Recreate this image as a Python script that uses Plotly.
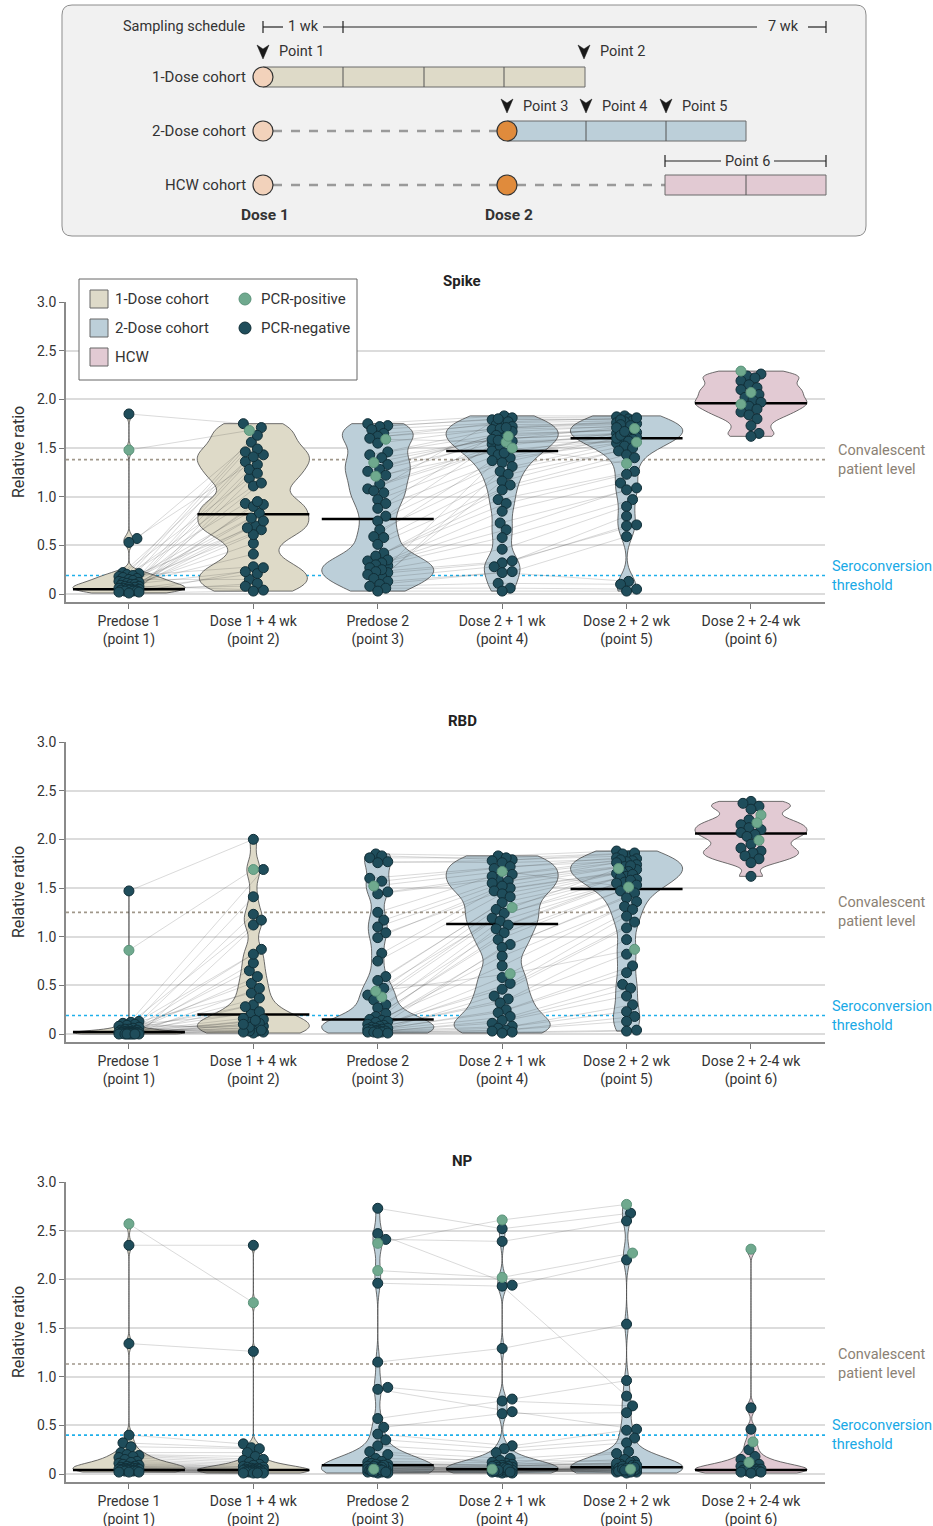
import numpy as np
import plotly.graph_objects as go

W, H = 933, 1526

# ------------------------------------------------------------------ data
categories = ["Predose 1<br>(point 1)", "Dose 1 + 4 wk<br>(point 2)", "Predose 2<br>(point 3)",
              "Dose 2 + 1 wk<br>(point 4)", "Dose 2 + 2 wk<br>(point 5)", "Dose 2 + 2-4 wk<br>(point 6)"]
y_tickvals = [0, 0.5, 1.0, 1.5, 2.0, 2.5, 3.0]
y_ticktext = ["0", "0.5", "1.0", "1.5", "2.0", "2.5", "3.0"]
panel_names = ["Spike", "RBD", "NP"]
convalescent_level = [1.38, 1.25, 1.13]
seroconversion_threshold = [0.19, 0.19, 0.40]

# PCR-positive subject indices per cohort
pos_1dose = [1]
pos_2dose = [7, 12, 16]
pos_hcw = [0, 5, 9]

# ---- Spike
spike_p1 = [1.85, 1.48, 0.57, 0.53, 0.22, 0.21, 0.20, 0.19, 0.18, 0.17, 0.16, 0.15, 0.14, 0.13,
            0.12, 0.12, 0.11, 0.10, 0.10, 0.09, 0.08, 0.08, 0.07, 0.07, 0.06, 0.06, 0.05, 0.05,
            0.05, 0.04, 0.04, 0.04, 0.03, 0.03, 0.03, 0.02, 0.02, 0.01]
spike_p2 = [1.75, 1.68, 1.56, 1.43, 1.36, 0.70, 1.71, 0.28, 1.19, 0.93, 1.49, 0.15, 0.83, 1.11,
            0.41, 1.63, 0.66, 0.23, 1.28, 0.92, 0.04, 1.46, 0.75, 1.14, 0.52, 0.08, 1.33, 0.90,
            0.61, 1.41, 0.21, 0.95, 0.11, 0.78, 1.24, 0.27, 0.68, 0.03]
spike_p3 = [1.75, 1.73, 1.72, 1.69, 1.65, 1.62, 1.60, 1.59, 1.55, 1.46, 1.43, 1.40, 1.35, 1.33,
            1.28, 1.26, 1.21, 1.22, 1.13, 1.08, 1.06, 1.04, 0.97, 0.93, 0.88, 0.80, 0.75, 0.29,
            0.66, 0.22, 0.59, 0.58, 0.18, 0.51, 0.34, 0.42, 0.39, 0.35, 0.32, 0.30, 0.27, 0.25,
            0.23, 0.20, 0.16, 0.13, 0.10, 0.08, 0.06, 0.03]
spike_p4 = [1.83, 1.79, 1.81, 1.76, 1.74, 1.69, 1.77, 1.56, 1.72, 1.65, 1.70, 1.60, 1.62, 1.67,
            1.54, 1.63, 1.50, 1.59, 1.57, 1.47, 1.80, 1.52, 1.43, 1.71, 1.40, 1.58, 1.35, 1.45,
            1.31, 1.26, 1.37, 1.23, 1.16, 1.12, 0.97, 1.07, 0.93, 0.85, 0.73, 0.66, 0.58, 0.46,
            0.34, 0.32, 0.28, 0.23, 0.22, 0.11, 0.06, 0.03]
spike_p5 = [1.83, 1.80, 1.82, 1.78, 1.75, 1.72, 1.81, 1.56, 1.77, 1.68, 1.76, 1.64, 1.70, 1.73,
            1.62, 1.69, 1.34, 1.66, 1.61, 1.59, 1.79, 1.65, 1.58, 1.74, 1.55, 1.71, 1.60, 1.63,
            1.57, 1.52, 1.67, 1.50, 1.47, 1.43, 1.26, 1.40, 1.23, 1.14, 1.09, 1.07, 0.97, 0.90,
            0.80, 0.71, 0.70, 0.59, 0.13, 0.10, 0.05, 0.03]
spike_p6 = [2.29, 2.26, 2.24, 2.22, 2.19, 2.07, 2.15, 2.12, 2.10, 1.95, 2.05, 2.02, 1.99, 1.97,
            1.93, 1.90, 1.87, 1.84, 1.80, 1.73, 1.65, 1.62]
spike_medians = [0.05, 0.82, 0.77, 1.47, 1.60, 1.96]

# ---- RBD
rbd_p1 = [1.47, 0.86, 0.13, 0.12, 0.11, 0.10, 0.09, 0.08, 0.07, 0.06, 0.05, 0.05, 0.04, 0.04,
          0.03, 0.03, 0.03, 0.02, 0.02, 0.02, 0.02, 0.02, 0.02, 0.01, 0.01, 0.01, 0.01, 0.01,
          0.01, 0.01, 0.00, 0.00, 0.00, 0.00, 0.00, 0.00, 0.00, 0.00]
rbd_p2 = [2.00, 1.69, 0.42, 1.12, 0.05, 0.21, 1.69, 0.08, 0.65, 0.02, 0.30, 0.87, 0.12, 0.04,
          1.41, 0.16, 0.52, 0.03, 0.73, 0.09, 0.23, 1.23, 0.06, 0.37, 0.01, 0.15, 0.59, 0.11,
          0.82, 0.03, 0.28, 1.17, 0.07, 0.47, 0.02, 0.14, 0.10, 0.04]
rbd_p3 = [1.85, 1.83, 1.81, 1.77, 1.76, 1.60, 1.57, 1.52, 1.46, 1.44, 1.25, 1.17, 0.38, 1.10,
          1.04, 0.99, 0.44, 0.83, 0.75, 0.59, 0.55, 0.47, 0.40, 0.35, 0.30, 0.27, 0.21, 0.18,
          0.15, 0.14, 0.13, 0.12, 0.10, 0.09, 0.08, 0.07, 0.06, 0.06, 0.05, 0.05, 0.04, 0.04,
          0.03, 0.03, 0.03, 0.02, 0.02, 0.02, 0.01, 0.01]
rbd_p4 = [1.83, 1.79, 1.81, 1.76, 1.78, 1.72, 1.70, 1.67, 1.64, 1.59, 1.62, 1.55, 1.30, 1.57,
          1.50, 1.52, 0.62, 1.47, 1.44, 1.41, 1.35, 1.28, 1.24, 1.19, 1.16, 1.12, 1.08, 1.04,
          0.97, 0.92, 0.89, 0.80, 0.70, 0.58, 0.52, 0.46, 0.39, 0.36, 0.32, 0.25, 0.22, 0.18,
          0.14, 0.11, 0.08, 0.06, 0.04, 0.03, 0.02, 0.01]
rbd_p5 = [1.88, 1.83, 1.86, 1.80, 1.85, 1.78, 1.81, 1.51, 1.77, 1.74, 1.79, 1.72, 1.70, 1.76,
          1.69, 1.73, 0.87, 1.67, 1.65, 1.66, 1.62, 1.64, 1.59, 1.61, 1.56, 1.58, 1.55, 1.53,
          1.47, 1.45, 1.40, 1.36, 1.31, 1.28, 1.21, 1.15, 1.09, 0.97, 0.82, 0.70, 0.63, 0.51,
          0.47, 0.39, 0.30, 0.23, 0.18, 0.13, 0.04, 0.03]
rbd_p6 = [2.25, 2.39, 2.37, 2.34, 2.31, 2.17, 2.20, 2.15, 2.12, 1.99, 2.10, 2.07, 2.05, 2.03,
          1.95, 1.91, 1.88, 1.86, 1.83, 1.80, 1.76, 1.62]
rbd_medians = [0.02, 0.20, 0.15, 1.13, 1.49, 2.06]

# ---- NP
np_p1 = [2.35, 2.57, 1.34, 0.40, 0.32, 0.28, 0.22, 0.20, 0.19, 0.18, 0.17, 0.15, 0.13, 0.12,
         0.11, 0.10, 0.09, 0.08, 0.08, 0.07, 0.07, 0.06, 0.06, 0.06, 0.05, 0.05, 0.05, 0.05,
         0.04, 0.04, 0.04, 0.04, 0.03, 0.03, 0.03, 0.02, 0.02, 0.02]
np_p2 = [2.35, 1.76, 1.26, 0.31, 0.27, 0.26, 0.22, 0.18, 0.15, 0.14, 0.12, 0.10, 0.09, 0.08,
         0.07, 0.07, 0.06, 0.06, 0.05, 0.05, 0.05, 0.04, 0.04, 0.04, 0.04, 0.03, 0.03, 0.03,
         0.03, 0.03, 0.02, 0.02, 0.02, 0.02, 0.01, 0.01, 0.01, 0.01]
np_p3 = [2.73, 2.47, 2.41, 1.96, 1.15, 0.89, 0.87, 2.37, 0.57, 0.48, 0.41, 0.35, 0.05, 0.29,
         0.23, 0.20, 2.09, 0.16, 0.13, 0.10,
         0.12, 0.04, 0.09, 0.02, 0.07, 0.11, 0.03, 0.06, 0.10, 0.05, 0.08, 0.01, 0.04, 0.07,
         0.03, 0.06, 0.09, 0.02, 0.05, 0.08, 0.04, 0.07, 0.01, 0.03, 0.06, 0.02, 0.05, 0.04,
         0.03, 0.02]
np_p4 = [2.52, 1.94, 2.39, 1.93, 1.29, 0.77, 0.64, 2.61, 0.75, 0.62, 0.29, 0.26, 0.05, 0.22,
         0.16, 0.11, 2.02, 0.14, 0.12, 0.10,
         0.09, 0.05, 0.07, 0.03, 0.06, 0.08, 0.02, 0.04, 0.09, 0.06, 0.05, 0.03, 0.01, 0.07,
         0.04, 0.02, 0.08, 0.03, 0.06, 0.05, 0.04, 0.07, 0.02, 0.03, 0.06, 0.01, 0.05, 0.04,
         0.03, 0.02]
np_p5 = [2.68, 2.20, 2.60, 0.80, 1.54, 0.96, 0.46, 2.77, 0.70, 0.63, 0.45, 0.37, 0.05, 0.32,
         0.23, 0.21, 2.27, 0.13, 0.10, 0.15,
         0.10, 0.05, 0.08, 0.03, 0.07, 0.12, 0.02, 0.04, 0.09, 0.06, 0.05, 0.03, 0.08, 0.01,
         0.04, 0.07, 0.11, 0.03, 0.06, 0.05, 0.02, 0.09, 0.04, 0.08, 0.03, 0.07, 0.05, 0.02,
         0.06, 0.04]
np_p6 = [2.31, 0.68, 0.46, 0.25, 0.18, 0.33, 0.15, 0.10, 0.08, 0.12, 0.07, 0.06, 0.05, 0.05,
         0.04, 0.04, 0.03, 0.03, 0.03, 0.02, 0.02, 0.01]
np_medians = [0.04, 0.04, 0.09, 0.05, 0.07, 0.04]

panels = [
    ("Spike", [spike_p1, spike_p2, spike_p3, spike_p4, spike_p5, spike_p6], spike_medians),
    ("RBD", [rbd_p1, rbd_p2, rbd_p3, rbd_p4, rbd_p5, rbd_p6], rbd_medians),
    ("NP", [np_p1, np_p2, np_p3, np_p4, np_p5, np_p6], np_medians),
]

# ------------------------------------------------------------------ style / geometry
FONT = "Roboto"
TXT = "#333333"
C_NEG, C_NEG_LINE = "#1f4d5b", "#112f38"
C_POS, C_POS_LINE = "#6fa98e", "#5b937a"
FILL = ["#dedac8", "#bccfd9", "#e2cad3"]       # 1-dose, 2-dose, HCW
cohort_of_point = [0, 0, 1, 1, 1, 2]
pos_sets = [set(pos_1dose), set(pos_2dose), set(pos_hcw)]
BW_WIDE = 0.105     # KDE bandwidth for widely spread groups
BW_HCW = 0.05       # KDE bandwidth for HCW groups with spread

PLOT_L, PLOT_R = 66, 825
panel_top = [302, 742, 1182]
panel_bot = [602, 1042, 1482]
X_MIN, X_MAX = -0.506, 5.595
Y_MIN, Y_MAX = -0.082, 3.0
XPX = (PLOT_R - PLOT_L) / (X_MAX - X_MIN)
YPX = 300.0 / (Y_MAX - Y_MIN)


def X(px):
    return px / W


def Y(py):
    return 1 - py / H


def swarm_offsets(vals, diam=8.5, step=2.0, max_off=11.0):
    vals = np.asarray(vals, float)
    order = np.argsort(vals, kind="stable")
    cands = [0.0]
    k = 1
    while k * step <= max_off + 1e-9:
        cands += [k * step, -k * step]
        k += 1
    px_list, py_list = [], []
    out = np.zeros(len(vals))
    for i in order:
        yp = vals[i] * YPX
        best, best_d = 0.0, -1.0
        for c in cands:
            if px_list:
                d = float(np.min(np.hypot(np.array(px_list) - c, np.array(py_list) - yp)))
            else:
                d = 1e9
            if d >= diam:
                best = c
                break
            if d > best_d:
                best, best_d = c, d
        out[i] = best / XPX
        px_list.append(best)
        py_list.append(yp)
    return out


fig = go.Figure()
shapes = []
annotations = []

for k, (name, groups, medians) in enumerate(panels):
    sfx = "" if k == 0 else str(k + 1)
    xa, ya = "x" + sfx, "y" + sfx
    offs = [swarm_offsets(g) for g in groups]

    for i, g in enumerate(groups):
        vkw = {}
        spread = np.percentile(g, 75) - np.percentile(g, 25)
        if i == 5 and spread > 0.1:
            vkw["bandwidth"] = BW_HCW
        elif spread > 0.3:
            vkw["bandwidth"] = BW_WIDE
        fig.add_trace(go.Violin(
            x=[i] * len(g), y=g, xaxis=xa, yaxis=ya, width=0.9, scalemode="width",
            spanmode="hard", points=False, side="both",
            fillcolor=FILL[cohort_of_point[i]], line=dict(color="#4a4a4a", width=0.8),
            opacity=1, showlegend=False, hoverinfo="skip", **vkw))

    lx, ly = [], []
    for chain in ([0, 1], [2, 3, 4]):
        for s in range(len(groups[chain[0]])):
            for i in chain:
                lx.append(i + offs[i][s])
                ly.append(groups[i][s])
            lx.append(None)
            ly.append(None)
    fig.add_trace(go.Scatter(x=lx, y=ly, xaxis=xa, yaxis=ya, mode="lines",
                             line=dict(color="rgba(60,60,60,0.32)", width=0.6),
                             showlegend=False, hoverinfo="skip"))

    mx, my = [], []
    for i, m in enumerate(medians):
        mx += [i - 0.45, i + 0.45, None]
        my += [m, m, None]
    fig.add_trace(go.Scatter(x=mx, y=my, xaxis=xa, yaxis=ya, mode="lines",
                             line=dict(color="black", width=2.5),
                             showlegend=False, hoverinfo="skip"))

    for positive in (False, True):
        px_, py_ = [], []
        for i, g in enumerate(groups):
            ps = pos_sets[cohort_of_point[i]]
            for s, v in enumerate(g):
                if (s in ps) == positive:
                    px_.append(i + offs[i][s])
                    py_.append(v)
        fig.add_trace(go.Scatter(
            x=px_, y=py_, xaxis=xa, yaxis=ya, mode="markers",
            marker=dict(size=10, color=C_POS if positive else C_NEG,
                        line=dict(color=C_POS_LINE if positive else C_NEG_LINE, width=1)),
            showlegend=False, hoverinfo="skip"))

    # reference lines (under the violins)
    shapes.append(dict(type="line", xref=xa, yref=ya, x0=X_MIN, x1=X_MAX,
                       y0=convalescent_level[k], y1=convalescent_level[k], layer="below",
                       line=dict(color="#a0978a", width=1.7, dash="dot")))
    shapes.append(dict(type="line", xref=xa, yref=ya, x0=X_MIN, x1=X_MAX,
                       y0=seroconversion_threshold[k], y1=seroconversion_threshold[k], layer="below",
                       line=dict(color="#1fb0ea", width=1.7, dash="dot")))
    annotations.append(dict(xref="paper", yref=ya, x=X(836), y=convalescent_level[k],
                            text="Convalescent<br>patient level", showarrow=False, xanchor="left",
                            yanchor="middle", align="left",
                            font=dict(family=FONT, size=14.5, color="#8b8174")))
    annotations.append(dict(xref="paper", yref=ya, x=X(830), y=seroconversion_threshold[k],
                            text="Seroconversion<br>threshold", showarrow=False, xanchor="left",
                            yanchor="middle", align="left",
                            font=dict(family=FONT, size=14.5, color="#19a9e6")))
    annotations.append(dict(xref="paper", yref="paper", x=X(462), y=Y(panel_top[k] - 21),
                            text="<b>%s</b>" % name, showarrow=False, xanchor="center",
                            yanchor="middle", font=dict(family=FONT, size=15, color="#222")))
    annotations.append(dict(xref="paper", yref="paper", x=X(18),
                            y=Y((panel_top[k] + panel_bot[k]) / 2), text="Relative ratio",
                            textangle=-90, showarrow=False, xanchor="center", yanchor="middle",
                            font=dict(family=FONT, size=16, color=TXT)))

# ------------------------------------------------------------------ legend (drawn)
shapes.append(dict(type="rect", xref="paper", yref="paper", x0=X(79), x1=X(357), y0=Y(380),
                   y1=Y(279), fillcolor="white", line=dict(color="#666", width=1), layer="above"))
leg_rows = [299, 328, 357]
for lbl, yy, fc in zip(["1-Dose cohort", "2-Dose cohort", "HCW"], leg_rows, FILL):
    shapes.append(dict(type="rect", xref="paper", yref="paper", x0=X(90), x1=X(108),
                       y0=Y(yy + 9), y1=Y(yy - 9), fillcolor=fc,
                       line=dict(color="#666", width=1), layer="above"))
    annotations.append(dict(xref="paper", yref="paper", x=X(113), y=Y(yy), text=lbl,
                            showarrow=False, xanchor="left", yanchor="middle",
                            font=dict(family=FONT, size=15, color=TXT)))
for lbl, yy, fc, lc in [("PCR-positive", 299, C_POS, C_POS_LINE), ("PCR-negative", 328, C_NEG, C_NEG_LINE)]:
    shapes.append(dict(type="circle", xref="paper", yref="paper", x0=X(239), x1=X(251),
                       y0=Y(yy + 6), y1=Y(yy - 6), fillcolor=fc,
                       line=dict(color=lc, width=1), layer="above"))
    annotations.append(dict(xref="paper", yref="paper", x=X(259), y=Y(yy), text=lbl,
                            showarrow=False, xanchor="left", yanchor="middle",
                            font=dict(family=FONT, size=15, color=TXT)))

# ------------------------------------------------------------------ schematic
def pth(pts):
    return "M " + " L ".join("%.5f,%.5f" % (X(a), Y(b)) for a, b in pts) + " Z"


def seg(x0, y0, x1, y1, color="#222", width=1.2, dash=None):
    ln = dict(color=color, width=width)
    if dash:
        ln["dash"] = dash
    shapes.append(dict(type="line", xref="paper", yref="paper", x0=X(x0), x1=X(x1),
                       y0=Y(y0), y1=Y(y1), line=ln, layer="above"))


def txt(x, y, s, anchor="left", size=15, bold=False):
    annotations.append(dict(xref="paper", yref="paper", x=X(x), y=Y(y),
                            text=("<b>%s</b>" % s) if bold else s, showarrow=False,
                            xanchor=anchor, yanchor="middle",
                            font=dict(family=FONT, size=size, color=TXT)))


bx0, by0, bx1, by1, r = 62, 5, 866, 236, 10
box = ("M %f,%f L %f,%f Q %f,%f %f,%f L %f,%f Q %f,%f %f,%f L %f,%f Q %f,%f %f,%f L %f,%f Q %f,%f %f,%f Z"
       % (X(bx0 + r), Y(by0), X(bx1 - r), Y(by0), X(bx1), Y(by0), X(bx1), Y(by0 + r),
          X(bx1), Y(by1 - r), X(bx1), Y(by1), X(bx1 - r), Y(by1),
          X(bx0 + r), Y(by1), X(bx0), Y(by1), X(bx0), Y(by1 - r),
          X(bx0), Y(by0 + r), X(bx0), Y(by0), X(bx0 + r), Y(by0)))
shapes.append(dict(type="path", xref="paper", yref="paper", path=box, fillcolor="#f1f1f1",
                   line=dict(color="#8c8c8c", width=1), layer="above"))

txt(248, 27, "Sampling schedule", anchor="right", size=14.5)
seg(263, 27, 283, 27)
seg(323, 27, 757, 27)
seg(808, 27, 826, 27)
for tx in (263, 343, 826):
    seg(tx, 21, tx, 33)
txt(303, 27, "1 wk", anchor="center", size=14.5)
txt(783, 27, "7 wk", anchor="center", size=14.5)

ROW = [77, 131, 185]
BAR_H = 10
txt(248, ROW[0], "1-Dose cohort", anchor="right")
txt(248, ROW[1], "2-Dose cohort", anchor="right")
txt(248, ROW[2], "HCW cohort", anchor="right")

seg(273, ROW[1], 497, ROW[1], color="#9a9a9a", width=2.5, dash="dash")
seg(273, ROW[2], 497, ROW[2], color="#9a9a9a", width=2.5, dash="dash")
seg(517, ROW[2], 665, ROW[2], color="#9a9a9a", width=2.5, dash="dash")

bars = [(263, 585, ROW[0], FILL[0], [343, 424, 504]),
        (507, 746, ROW[1], FILL[1], [586, 666]),
        (665, 826, ROW[2], FILL[2], [746])]
for x0, x1, yy, fc, divs in bars:
    shapes.append(dict(type="rect", xref="paper", yref="paper", x0=X(x0), x1=X(x1),
                       y0=Y(yy + BAR_H), y1=Y(yy - BAR_H), fillcolor=fc,
                       line=dict(color="#6a6a6a", width=1), layer="above"))
    for d in divs:
        seg(d, yy - BAR_H, d, yy + BAR_H, color="#555", width=1)


def circle(cx, cy, rr, fc):
    shapes.append(dict(type="circle", xref="paper", yref="paper", x0=X(cx - rr), x1=X(cx + rr),
                       y0=Y(cy + rr), y1=Y(cy - rr), fillcolor=fc,
                       line=dict(color="#333", width=1.2), layer="above"))


for yy in ROW:
    circle(263, yy, 10, "#f2d2bb")
circle(507, ROW[1], 10, "#e08b3c")
circle(507, ROW[2], 10, "#e08b3c")


def arrow(ax, ay):
    shapes.append(dict(type="path", xref="paper", yref="paper",
                       path=pth([(ax - 6, ay - 7), (ax, ay + 7), (ax + 6, ay - 7), (ax, ay - 3)]),
                       fillcolor="#1a1a1a", line=dict(color="#1a1a1a", width=0.5), layer="above"))


for ax, ay, lbl in [(263, 52, "Point 1"), (584, 52, "Point 2"), (507, 106, "Point 3"),
                    (586, 106, "Point 4"), (666, 106, "Point 5")]:
    arrow(ax, ay)
    txt(ax + 14, ay, lbl, size=14.5)

seg(665, 161, 721, 161)
seg(774, 161, 826, 161)
seg(665, 155, 665, 167)
seg(826, 155, 826, 167)
txt(747, 161, "Point 6", anchor="center", size=14.5)

txt(265, 215, "Dose 1", anchor="center", size=15.5, bold=True)
txt(509, 215, "Dose 2", anchor="center", size=15.5, bold=True)

# ------------------------------------------------------------------ axes
layout = dict(width=W, height=H, autosize=False,
              margin=dict(l=0, r=0, t=0, b=0, pad=0, autoexpand=False),
              paper_bgcolor="white", plot_bgcolor="white", violinmode="overlay", hovermode=False,
              font=dict(family=FONT, size=14, color=TXT), showlegend=False,
              shapes=shapes, annotations=annotations)
for k in range(3):
    sfx = "" if k == 0 else str(k + 1)
    layout["xaxis" + sfx] = dict(
        domain=[X(PLOT_L), X(PLOT_R)], range=[X_MIN, X_MAX], anchor="y" + sfx, automargin=False,
        tickmode="array", tickvals=list(range(6)), ticktext=categories,
        ticks="outside", ticklen=5, tickwidth=1, tickcolor="#777",
        showline=True, linecolor="#8a8a8a", linewidth=1.5, showgrid=False, zeroline=False,
        tickfont=dict(family=FONT, size=14, color=TXT), fixedrange=True)
    layout["yaxis" + sfx] = dict(
        domain=[Y(panel_bot[k]), Y(panel_top[k])], range=[Y_MIN, Y_MAX], anchor="x" + sfx,
        automargin=False,
        tickmode="array", tickvals=y_tickvals, ticktext=y_ticktext,
        ticks="outside", ticklen=5, tickwidth=1, tickcolor="#777",
        showline=True, linecolor="#8a8a8a", linewidth=1.5,
        showgrid=True, gridcolor="#dcdcdc", gridwidth=2, zeroline=False,
        tickfont=dict(family=FONT, size=14, color=TXT), fixedrange=True)

fig.update_layout(**layout)
fig.write_html(
    "out.html", config={"displayModeBar": False},
    post_script=("document.documentElement.style.margin='0px';"
                 "document.body.style.margin='0px';document.body.style.padding='0px';"
                 "document.body.style.overflow='hidden';"
                 "var gd=document.getElementById('{plot_id}');"
                 "gd.style.position='absolute';gd.style.top='0px';gd.style.left='0px';"))
